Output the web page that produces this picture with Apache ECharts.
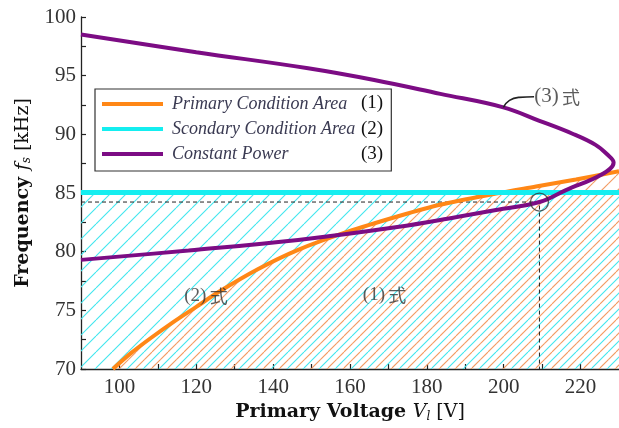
<!DOCTYPE html>
<html>

<head>
    <meta charset="utf-8" />
    <title>Frequency vs Primary Voltage</title>
    <script src="https://cdn.jsdelivr.net/npm/echarts@6.0.0/dist/echarts.min.js"></script>
    <style>
        html, body { margin: 0; padding: 0; background: #fff; }
    </style>
</head>

<body>
    <div id="container" style="width:619px;height:428px;"></div>
    <script type="text/javascript">
        // tick labels
        var xTicks = [100, 110, 120, 130, 140, 150, 160, 170, 180, 190, 200, 210, 220];
        var xLabels = [100, 120, 140, 160, 180, 200, 220];

        // (1) primary condition boundary  [V, kHz]
        var primaryV = [98.3, 103, 108, 114, 120, 126, 136, 146.5, 159.4, 172.3, 183.4, 198, 208.4, 218.8, 230];
        var primaryF = [70, 71.35, 72.6, 74.0, 75.3, 76.6, 78.5, 80.15, 81.7, 83.0, 84.0, 84.95, 85.55, 86.15, 86.85];

        // (2) secondary condition boundary
        var secondaryV = [90, 230];
        var secondaryF = [85.05, 85.05];

        // (3) constant power curve
        var powerV = [90, 120, 149.1, 166.3, 183.5, 199.9, 209.3, 217.9, 223.9, 226.9, 228.6, 225.6, 216.2, 209.3, 198, 187.8, 172.3, 146.5, 118, 90];
        var powerF = [98.5, 97.0, 95.63, 94.63, 93.45, 92.3, 91.15, 90.05, 89.1, 88.3, 87.6, 86.6, 85.25, 84.23, 83.55, 82.95, 82.1, 81.0, 80.1, 79.3];

        // operating point and guide lines
        var opV = 209.3;
        var opF = 84.23;

        // leader for the "(3) 式" note
        var leaderV = [199.9, 201.5, 204, 207.9];
        var leaderF = [92.3, 92.9, 93.15, 93.2];

        // notes
        var noteText = ['(3)', '(2)', '(1)'];
        var noteV = [213.9, 122.5, 169];
        var noteF = [93.2, 76.2, 76.3];

        var seriesNames = ['Primary Condition Area', 'Scondary Condition Area', 'Constant Power'];
        var legendTags = ['(1)', '(2)', '(3)'];

        var ORANGE = '#ff8716';
        var CYAN = '#14eef0';
        var PURPLE = '#7c0c84';
        var SERIF = '"Liberation Serif", "DejaVu Serif", serif';
        var WIDE = '"DejaVu Serif", serif';
        var CJK = '"Noto Sans CJK JP", "Noto Sans CJK SC", sans-serif';

        function zip(a, b) {
            return a.map(function (v, i) { return [v, b[i]]; });
        }

        function hatch(color, offset) {
            var c = document.createElement('canvas');
            c.width = 16;
            c.height = 16;
            var g = c.getContext('2d');
            g.strokeStyle = color;
            g.lineWidth = 1.1;
            for (var k = -1; k <= 1; k++) {
                g.beginPath();
                g.moveTo(offset + k * 16, 16);
                g.lineTo(offset + k * 16 + 16, 0);
                g.stroke();
            }
            return c;
        }

        var titleRich = {
            b: { fontFamily: WIDE, fontWeight: 'bold', fontSize: 19, color: '#111' },
            i: { fontFamily: WIDE, fontStyle: 'italic', fontSize: 19, color: '#111' },
            s: { fontFamily: WIDE, fontStyle: 'italic', fontSize: 12, color: '#111', padding: [8, 0, 0, 0] },
            r: { fontFamily: WIDE, fontSize: 19, color: '#111' }
        };

        var chart = echarts.init(document.getElementById('container'));

        var option = {
            animation: false,
            backgroundColor: '#fff',
            grid: { left: 81, top: 17, bottom: 59, right: -4 },
            legend: {
                data: seriesNames,
                orient: 'vertical',
                left: 95,
                top: 89,
                icon: 'rect',
                itemWidth: 61,
                itemHeight: 4,
                itemGap: 5,
                padding: [5, 36, 7, 7],
                borderColor: '#333',
                borderWidth: 1.2,
                backgroundColor: '#fff',
                textStyle: {
                    fontFamily: SERIF,
                    fontStyle: 'italic',
                    fontSize: 18,
                    lineHeight: 20,
                    color: '#3a3a52',
                    padding: [0, 0, 0, 4]
                }
            },
            graphic: legendTags.map(function (t, i) {
                return {
                    type: 'text',
                    left: 359,
                    top: 94 + i * 25.5,
                    z: 100,
                    style: {
                        text: t,
                        font: '19px ' + SERIF,
                        fill: '#111',
                        backgroundColor: '#fff',
                        padding: [0, 1, 0, 2]
                    }
                };
            }),
            xAxis: {
                type: 'value',
                min: 90,
                max: 230,
                name: '{b|Primary Voltage }{i|V}{s|l}{r| [V]}',
                nameLocation: 'middle',
                nameGap: 32,
                nameTextStyle: { rich: titleRich },
                axisLine: { onZero: false, lineStyle: { color: '#222', width: 1.3 } },
                axisTick: { inside: true, length: 5, customValues: xTicks, lineStyle: { color: '#222', width: 1.2 } },
                axisLabel: {
                    customValues: xLabels,
                    margin: 8,
                    fontFamily: SERIF,
                    fontSize: 21,
                    color: '#333'
                },
                splitLine: { show: false }
            },
            yAxis: {
                type: 'value',
                min: 70,
                max: 100,
                interval: 5,
                name: '{b|Frequency }{i|f}{s|s}{r| [kHz]}',
                nameLocation: 'middle',
                nameRotate: 90,
                nameGap: 48,
                nameTextStyle: { rich: titleRich },
                axisLine: { show: true, lineStyle: { color: '#222', width: 1.3 } },
                axisTick: { inside: true, length: 5, lineStyle: { color: '#222', width: 1.2 } },
                minorTick: { show: true, splitNumber: 2, length: 5, lineStyle: { color: '#222', width: 1.2 } },
                axisLabel: {
                    margin: 5,
                    fontFamily: SERIF,
                    fontSize: 21,
                    color: '#333'
                },
                splitLine: { show: false }
            },
            series: [
                {
                    name: 'cyanArea',
                    type: 'line',
                    data: zip(secondaryV, secondaryF),
                    showSymbol: false,
                    silent: true,
                    z: 1,
                    lineStyle: { width: 0 },
                    areaStyle: { origin: 'start', opacity: 1, color: { image: hatch('#3fe6ee', 0), repeat: 'repeat' } }
                },
                {
                    name: 'orangeArea',
                    type: 'line',
                    data: zip(primaryV, primaryF),
                    smooth: 0.3,
                    showSymbol: false,
                    silent: true,
                    z: 1,
                    lineStyle: { width: 0 },
                    areaStyle: { origin: 'start', opacity: 1, color: { image: hatch('#f39a62', 8), repeat: 'repeat' } }
                },
                {
                    name: 'guide',
                    type: 'line',
                    data: [[90, opF], [opV, opF], [opV, 70]],
                    showSymbol: false,
                    silent: true,
                    z: 2,
                    lineStyle: { color: '#222', width: 1, type: [4, 3] }
                },
                {
                    name: seriesNames[0],
                    type: 'line',
                    data: zip(primaryV, primaryF),
                    smooth: 0.3,
                    showSymbol: false,
                    color: ORANGE,
                    z: 3,
                    lineStyle: { width: 4 }
                },
                {
                    name: seriesNames[1],
                    type: 'line',
                    data: zip(secondaryV, secondaryF),
                    showSymbol: false,
                    color: CYAN,
                    z: 4,
                    lineStyle: { width: 5 }
                },
                {
                    name: seriesNames[2],
                    type: 'line',
                    data: zip(powerV, powerF),
                    smooth: 0.4,
                    showSymbol: false,
                    color: PURPLE,
                    z: 5,
                    lineStyle: { width: 4 }
                },
                {
                    name: 'leader',
                    type: 'line',
                    data: zip(leaderV, leaderF),
                    smooth: 0.5,
                    showSymbol: false,
                    silent: true,
                    z: 5,
                    lineStyle: { color: '#222', width: 1.6 }
                },
                {
                    name: 'point',
                    type: 'scatter',
                    data: [[opV, opF]],
                    symbol: 'circle',
                    symbolSize: 18,
                    silent: true,
                    z: 6,
                    itemStyle: { color: 'rgba(0,0,0,0)', borderColor: '#333', borderWidth: 1.3 }
                },
                {
                    name: 'notes',
                    type: 'scatter',
                    data: zip(noteV, noteF),
                    symbolSize: 0,
                    silent: true,
                    z: 7,
                    label: {
                        show: true,
                        position: 'inside',
                        formatter: function (p) {
                            var k = p.dataIndex === 0 ? 'n' : 'm';
                            return '{' + k + '|' + noteText[p.dataIndex] + '} {c|式}';
                        },
                        rich: {
                            n: { fontFamily: SERIF, fontSize: 21, color: '#333' },
                            m: { fontFamily: SERIF, fontSize: 19, color: '#333' },
                            c: { fontFamily: CJK, fontSize: 18, color: '#333' }
                        }
                    }
                }
            ]
        };

        chart.setOption(option, true);
    </script>
</body>

</html>
